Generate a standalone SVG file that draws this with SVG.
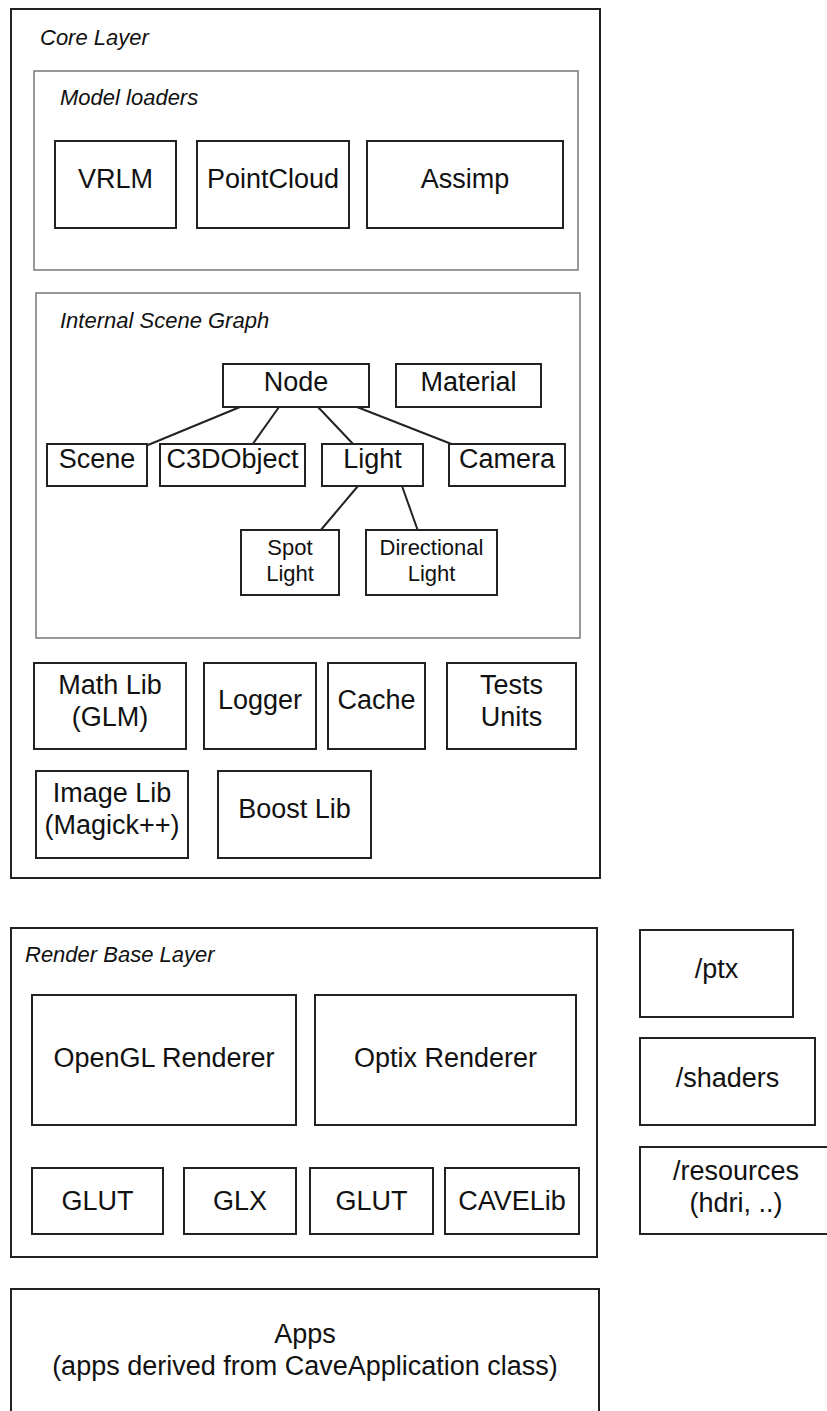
<svg xmlns="http://www.w3.org/2000/svg" width="827" height="1411" viewBox="0 0 827 1411">
<style>
.box{fill:#fff;stroke:#222;stroke-width:2}
.grp{fill:#fff;stroke:#777;stroke-width:1.5}
.t{font-family:"Liberation Sans",Arial,sans-serif;font-size:27px;fill:#111;text-anchor:middle}
.s{font-family:"Liberation Sans",Arial,sans-serif;font-size:22px;fill:#111;text-anchor:middle}
.ti{font-family:"Liberation Sans",Arial,sans-serif;font-size:22px;font-style:italic;fill:#111}
.ln{stroke:#222;stroke-width:2;fill:none}
</style>
<rect width="827" height="1411" fill="#fff"/>
<g id="core-layer">
<rect class="box" x="11" y="9" width="589" height="869"/>
<text class="ti" x="40" y="45">Core Layer</text>
</g>
<g id="model-loaders">
<rect class="grp" x="34" y="71" width="544" height="199"/>
<text class="ti" x="60" y="105">Model loaders</text>
</g>
<g id="vrlm"><rect class="box" x="55" y="141" width="121" height="87"/><text class="t" x="115.5" y="188">VRLM</text></g>
<g id="pointcloud"><rect class="box" x="197" y="141" width="152" height="87"/><text class="t" x="273" y="188">PointCloud</text></g>
<g id="assimp"><rect class="box" x="367" y="141" width="196" height="87"/><text class="t" x="465" y="188">Assimp</text></g>
<g id="internal-scene-graph">
<rect class="grp" x="36" y="293" width="544" height="345"/>
<text class="ti" x="60" y="328">Internal Scene Graph</text>
</g>
<g id="connectors">
<line class="ln" x1="240" y1="407" x2="148" y2="445"/>
<line class="ln" x1="279" y1="407" x2="252" y2="445"/>
<line class="ln" x1="318" y1="407" x2="354" y2="445"/>
<line class="ln" x1="357" y1="407" x2="454" y2="445"/>
<line class="ln" x1="358" y1="486" x2="320" y2="531"/>
<line class="ln" x1="402" y1="486" x2="418" y2="531"/>
</g>
<g id="node"><rect class="box" x="223" y="364" width="146" height="43"/><text class="t" x="296" y="391">Node</text></g>
<g id="material"><rect class="box" x="396" y="364" width="145" height="43"/><text class="t" x="468.5" y="391">Material</text></g>
<g id="scene"><rect class="box" x="47" y="444" width="100" height="42"/><text class="t" x="97" y="468">Scene</text></g>
<g id="c3dobject"><rect class="box" x="160" y="444" width="145" height="42"/><text class="t" x="232.5" y="468">C3DObject</text></g>
<g id="light"><rect class="box" x="322" y="444" width="101" height="42"/><text class="t" x="372.5" y="468">Light</text></g>
<g id="camera"><rect class="box" x="449" y="444" width="116" height="42"/><text class="t" x="507" y="468">Camera</text></g>
<g id="spot-light"><rect class="box" x="241" y="530" width="98" height="65"/><text class="s" x="290" y="555">Spot</text><text class="s" x="290" y="581">Light</text></g>
<g id="directional-light"><rect class="box" x="366" y="530" width="131" height="65"/><text class="s" x="431.5" y="555">Directional</text><text class="s" x="431.5" y="581">Light</text></g>
<g id="math-lib"><rect class="box" x="34" y="663" width="152" height="86"/><text class="t" x="110" y="694">Math Lib</text><text class="t" x="110" y="726">(GLM)</text></g>
<g id="logger"><rect class="box" x="204" y="663" width="112" height="86"/><text class="t" x="260" y="709">Logger</text></g>
<g id="cache"><rect class="box" x="328" y="663" width="97" height="86"/><text class="t" x="376.5" y="709">Cache</text></g>
<g id="tests-units"><rect class="box" x="447" y="663" width="129" height="86"/><text class="t" x="511.5" y="694">Tests</text><text class="t" x="511.5" y="726">Units</text></g>
<g id="image-lib"><rect class="box" x="36" y="771" width="152" height="87"/><text class="t" x="112" y="802">Image Lib</text><text class="t" x="112" y="834">(Magick++)</text></g>
<g id="boost-lib"><rect class="box" x="218" y="771" width="153" height="87"/><text class="t" x="294.5" y="818">Boost Lib</text></g>
<g id="render-base-layer">
<rect class="box" x="11" y="928" width="586" height="329"/>
<text class="ti" x="25" y="962">Render Base Layer</text>
</g>
<g id="opengl-renderer"><rect class="box" x="32" y="995" width="264" height="130"/><text class="t" x="164" y="1067">OpenGL Renderer</text></g>
<g id="optix-renderer"><rect class="box" x="315" y="995" width="261" height="130"/><text class="t" x="445.5" y="1067">Optix Renderer</text></g>
<g id="glut-1"><rect class="box" x="32" y="1168" width="131" height="66"/><text class="t" x="97.5" y="1210">GLUT</text></g>
<g id="glx"><rect class="box" x="184" y="1168" width="112" height="66"/><text class="t" x="240" y="1210">GLX</text></g>
<g id="glut-2"><rect class="box" x="310" y="1168" width="123" height="66"/><text class="t" x="371.5" y="1210">GLUT</text></g>
<g id="cavelib"><rect class="box" x="445" y="1168" width="134" height="66"/><text class="t" x="512" y="1210">CAVELib</text></g>
<g id="ptx"><rect class="box" x="640" y="930" width="153" height="87"/><text class="t" x="716.5" y="978">/ptx</text></g>
<g id="shaders"><rect class="box" x="640" y="1038" width="175" height="87"/><text class="t" x="727.5" y="1087">/shaders</text></g>
<g id="resources"><rect class="box" x="640" y="1147" width="192" height="87"/><text class="t" x="736" y="1180">/resources</text><text class="t" x="736" y="1212">(hdri, ..)</text></g>
<g id="apps"><rect class="box" x="11" y="1289" width="588" height="140"/><text class="t" x="305" y="1343">Apps</text><text class="t" x="305" y="1375">(apps derived from CaveApplication class)</text></g>
</svg>
